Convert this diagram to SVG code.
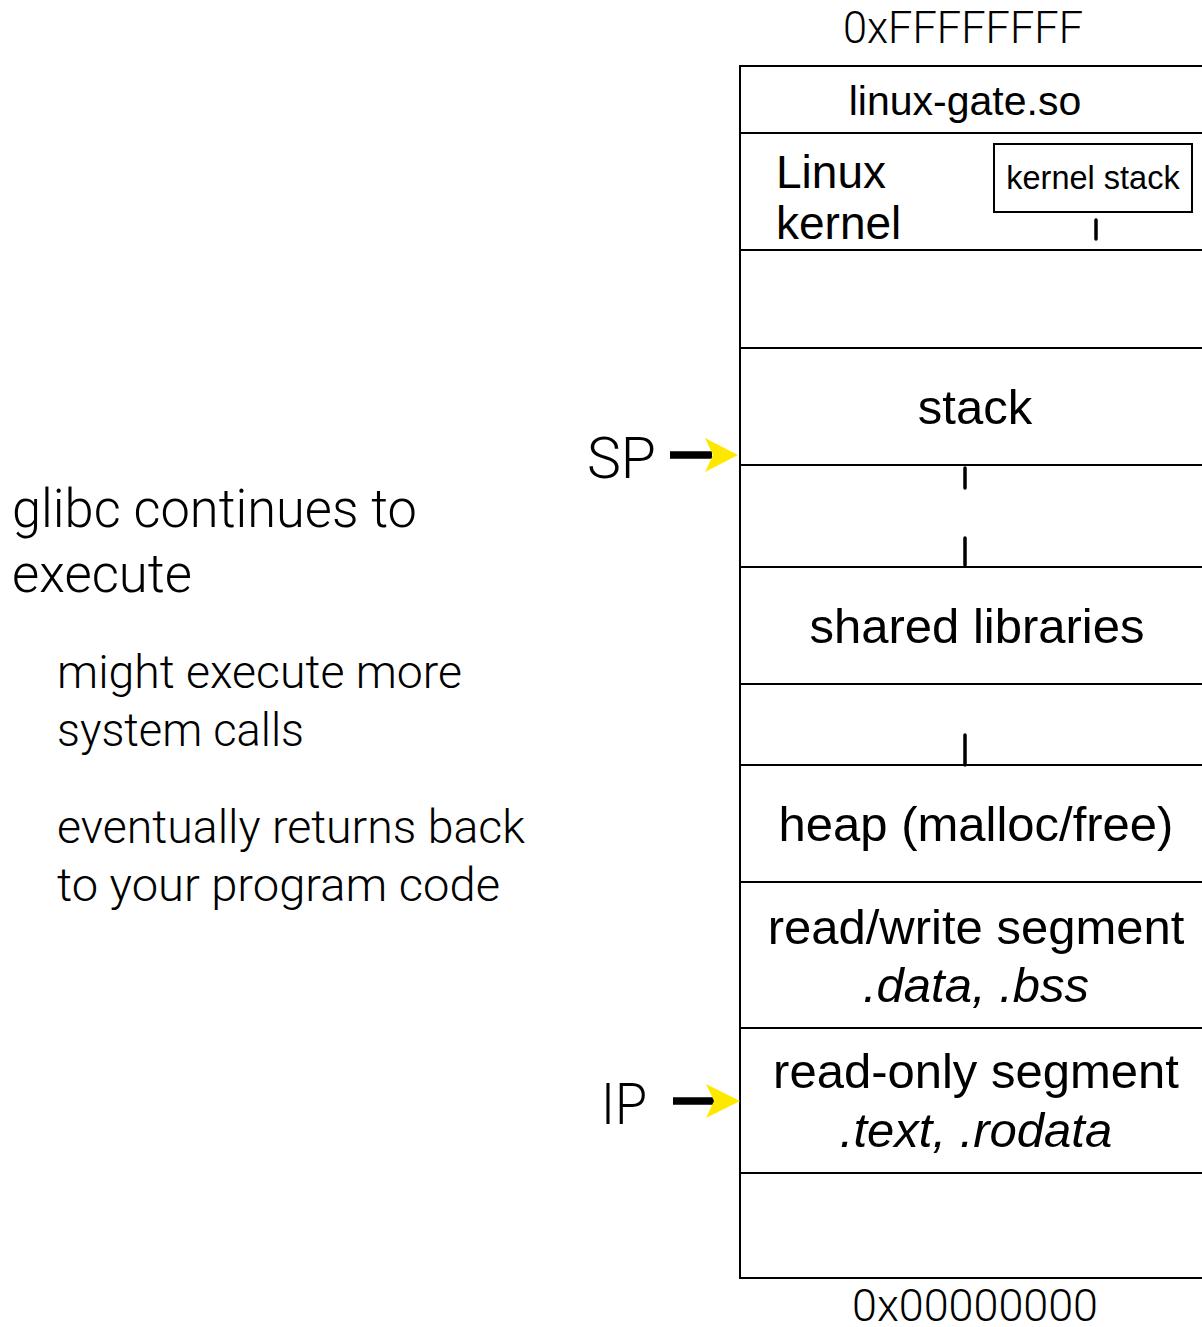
<svg xmlns="http://www.w3.org/2000/svg" width="1202" height="1327" viewBox="0 0 1202 1327">
<style>
.lt{font-family:"Liberation Sans",Arial,sans-serif;fill:#000}
.li{font-family:Roboto,"Liberation Sans",sans-serif;font-weight:300;fill:#000}
.seg{stroke:#000;stroke-width:2;fill:none}
.dash{stroke:#000;stroke-width:3.5;stroke-linecap:round}
.shaft{stroke:#000;stroke-width:7.5}
.head{fill:#FFE800}
</style>
<rect width="1202" height="1327" fill="#fff"/>
<g id="memory">
  <rect class="seg" x="740" y="66" width="480" height="1212"/>
  <line class="seg" x1="740" y1="133" x2="1202" y2="133"/>
  <line class="seg" x1="740" y1="250" x2="1202" y2="250"/>
  <line class="seg" x1="740" y1="348" x2="1202" y2="348"/>
  <line class="seg" x1="740" y1="465" x2="1202" y2="465"/>
  <line class="seg" x1="740" y1="567" x2="1202" y2="567"/>
  <line class="seg" x1="740" y1="684" x2="1202" y2="684"/>
  <line class="seg" x1="740" y1="765" x2="1202" y2="765"/>
  <line class="seg" x1="740" y1="882" x2="1202" y2="882"/>
  <line class="seg" x1="740" y1="1028" x2="1202" y2="1028"/>
  <line class="seg" x1="740" y1="1173" x2="1202" y2="1173"/>
</g>
<g id="addr-top"><text class="li" x="963" y="43" font-size="44" text-anchor="middle" textLength="240" lengthAdjust="spacingAndGlyphs">0xFFFFFFFF</text></g>
<g id="addr-bottom"><text class="li" x="975" y="1321" font-size="44" text-anchor="middle" textLength="246" lengthAdjust="spacingAndGlyphs">0x00000000</text></g>
<g id="linux-gate"><text class="lt" x="965" y="115" font-size="41" text-anchor="middle">linux-gate.so</text></g>
<g id="kernel">
  <text class="lt" x="776" y="188" font-size="46">Linux</text>
  <text class="lt" x="776" y="239" font-size="46">kernel</text>
</g>
<g id="kernel-stack">
  <rect class="seg" x="994" y="144" width="198" height="68"/>
  <text class="lt" x="1093" y="189" font-size="32.5" text-anchor="middle">kernel stack</text>
</g>
<g id="stack"><text class="lt" x="975" y="424" font-size="49" text-anchor="middle">stack</text></g>
<g id="shared-libraries"><text class="lt" x="977" y="643" font-size="49" text-anchor="middle">shared libraries</text></g>
<g id="heap"><text class="lt" x="976" y="841" font-size="49" text-anchor="middle">heap (malloc/free)</text></g>
<g id="rw-segment">
  <text class="lt" x="976" y="944" font-size="49" text-anchor="middle">read/write segment</text>
  <text class="lt" x="976" y="1002" font-size="49" text-anchor="middle" font-style="italic">.data, .bss</text>
</g>
<g id="ro-segment">
  <text class="lt" x="976" y="1088" font-size="49" text-anchor="middle">read-only segment</text>
  <text class="lt" x="976" y="1147" font-size="49" text-anchor="middle" font-style="italic">.text, .rodata</text>
</g>
<g id="notes">
  <text class="li" x="12" y="527" font-size="53" textLength="405" lengthAdjust="spacingAndGlyphs">glibc continues to</text>
  <text class="li" x="12" y="592" font-size="53" textLength="180" lengthAdjust="spacingAndGlyphs">execute</text>
  <text class="li" x="57" y="688" font-size="46" textLength="405" lengthAdjust="spacingAndGlyphs">might execute more</text>
  <text class="li" x="57" y="746" font-size="46" textLength="247" lengthAdjust="spacingAndGlyphs">system calls</text>
  <text class="li" x="57" y="843" font-size="46" textLength="468" lengthAdjust="spacingAndGlyphs">eventually returns back</text>
  <text class="li" x="57" y="901" font-size="46" textLength="443" lengthAdjust="spacingAndGlyphs">to your program code</text>
</g>
<g id="sp-label"><text class="li" x="587" y="478" font-size="57" textLength="69" lengthAdjust="spacingAndGlyphs">SP</text></g>
<g id="ip-label"><text class="li" x="601" y="1124" font-size="57" textLength="46" lengthAdjust="spacingAndGlyphs">IP</text></g>
<g id="connectors">
  <line class="dash" x1="1096" y1="220" x2="1096" y2="239"/>
  <line class="dash" x1="965" y1="468" x2="965" y2="488"/>
  <line class="dash" x1="965" y1="538" x2="965" y2="565"/>
  <line class="dash" x1="965" y1="735" x2="965" y2="765"/>
  <line class="shaft" x1="670" y1="455" x2="712" y2="455"/>
  <polygon class="head" points="705,438 738,455 705,472 713,455"/>
  <line class="shaft" x1="673" y1="1101" x2="715" y2="1101"/>
  <polygon class="head" points="706,1084 740,1101 706,1118 714,1101"/>
</g>
</svg>
